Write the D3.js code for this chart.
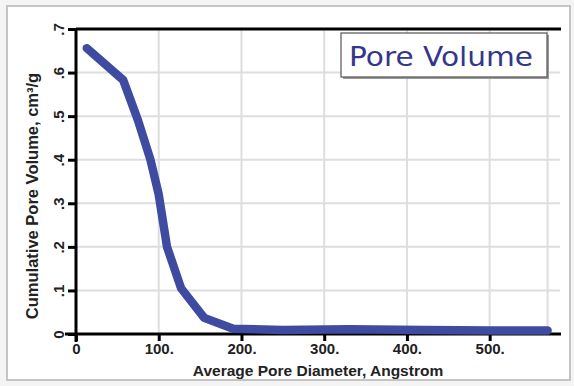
<!DOCTYPE html>
<html>
<head>
<meta charset="utf-8">
<script src="https://cdn.jsdelivr.net/npm/d3@7"></script>
<style>
  html, body { margin: 0; padding: 0; background: #ffffff; }
  svg { display: block; }
</style>
</head>
<body>
<svg id="chart" width="574" height="386"></svg>
<script>
// Cumulative pore volume against average pore diameter
const diameters = [13, 57, 75, 90, 100, 110, 127, 155, 190, 250, 330, 420, 500, 570];
const volumes   = [0.656, 0.583, 0.49, 0.40, 0.32, 0.20, 0.105, 0.037, 0.012, 0.009, 0.011, 0.009, 0.008, 0.008];
const xTicks = [0, 100, 200, 300, 400, 500];
const xTickLabels = ["0", "100.", "200.", "300.", "400.", "500."];
const yTicks = [0, 0.1, 0.2, 0.3, 0.4, 0.5, 0.6, 0.7];
const yTickLabels = ["0", ".1", ".2", ".3", ".4", ".5", ".6", ".7"];
const seriesName = "Pore Volume";

const FONT = "'Liberation Sans', Arial, Helvetica, sans-serif";
const svg = d3.select("#chart");
const W = 574, H = 386;
const plot = { left: 76, right: 560, top: 29, bottom: 334 };

// outer frame
svg.append("rect").attr("x", 0).attr("y", 0).attr("width", W).attr("height", H).attr("fill", "#f4f4f4");
svg.append("rect").attr("x", 7).attr("y", 6).attr("width", 563).attr("height", 374)
  .attr("fill", "#ffffff").attr("stroke", "#c4c4c4").attr("stroke-width", 2);

const x = d3.scaleLinear().domain([0, 585]).range([plot.left, plot.right]);
const y = d3.scaleLinear().domain([0, 0.7]).range([plot.bottom, plot.top]);

const grid = svg.append("g").attr("stroke", "#dedede").attr("stroke-width", 2);
grid.selectAll("line.h").data(yTicks.filter(v => v > 0 && v < 0.7)).join("line")
  .attr("x1", plot.left).attr("x2", plot.right)
  .attr("y1", d => y(d)).attr("y2", d => y(d));
grid.selectAll("line.v").data(xTicks.filter(v => v > 0).concat([diameters[diameters.length - 1]])).join("line")
  .attr("y1", plot.top).attr("y2", plot.bottom)
  .attr("x1", d => x(d)).attr("x2", d => x(d));

// top border line
svg.append("line").attr("x1", plot.left).attr("x2", plot.right + 1)
  .attr("y1", plot.top).attr("y2", plot.top)
  .attr("stroke", "#000").attr("stroke-width", 3);

// axes
const xAxis = d3.axisBottom(x).tickValues(xTicks).tickSize(7)
  .tickFormat((d, i) => xTickLabels[i]);
const gx = svg.append("g").attr("transform", `translate(0,${plot.bottom})`).call(xAxis);
gx.select(".domain").attr("d", `M${plot.left - 11},0H${plot.right + 1}`).attr("stroke", "#000").attr("stroke-width", 3);
gx.selectAll(".tick line").attr("stroke", "#000").attr("stroke-width", 3);
gx.selectAll(".tick text").attr("y", 9).attr("font-family", FONT)
  .attr("font-size", 15).attr("font-weight", "bold").attr("fill", "#222");

const yAxis = d3.axisLeft(y).tickValues(yTicks).tickSize(8)
  .tickFormat((d, i) => yTickLabels[i]);
const gy = svg.append("g").attr("transform", `translate(${plot.left},0)`).call(yAxis);
gy.select(".domain").attr("d", `M0,${plot.top - 1}V${plot.bottom + 8}`).attr("stroke", "#000").attr("stroke-width", 3);
gy.selectAll(".tick line").attr("stroke", "#000").attr("stroke-width", 3);
gy.selectAll(".tick text")
  .attr("x", null).attr("dy", null)
  .attr("transform", "translate(-17,0) rotate(-90)")
  .attr("text-anchor", "middle").attr("dy", "0.35em")
  .attr("font-family", FONT)
  .attr("font-size", 15).attr("font-weight", "bold").attr("fill", "#222");

// data line
const line = d3.line().x((d, i) => x(diameters[i])).y(d => y(d));
svg.append("path").datum(volumes)
  .attr("d", line)
  .attr("fill", "none").attr("stroke", "#3f4ba0").attr("stroke-width", 8.5)
  .attr("stroke-linecap", "round").attr("stroke-linejoin", "round");

// axis titles
svg.append("text").attr("x", 318).attr("y", 376).attr("text-anchor", "middle")
  .attr("font-family", FONT).attr("font-size", 15.5)
  .attr("font-weight", "bold").attr("fill", "#222")
  .text("Average Pore Diameter, Angstrom");
svg.append("text").attr("transform", "translate(38,196) rotate(-90)").attr("text-anchor", "middle")
  .attr("font-family", FONT).attr("font-size", 16.5)
  .attr("font-weight", "bold").attr("fill", "#222")
  .text("Cumulative Pore Volume, cm³/g");

// legend box
const lg = svg.append("g");
lg.append("rect").attr("x", 343).attr("y", 35).attr("width", 206).attr("height", 44)
  .attr("fill", "#9a9a9a");
lg.append("rect").attr("x", 341).attr("y", 33).attr("width", 206).attr("height", 44)
  .attr("fill", "#ffffff").attr("stroke", "#555").attr("stroke-width", 1.2);
lg.append("text").attr("x", 441).attr("y", 66).attr("text-anchor", "middle")
  .attr("font-family", "'DejaVu Sans', sans-serif").attr("font-size", 27)
  .attr("textLength", 184).attr("lengthAdjust", "spacingAndGlyphs")
  .attr("fill", "#33378a").text(seriesName);
</script>
</body>
</html>
